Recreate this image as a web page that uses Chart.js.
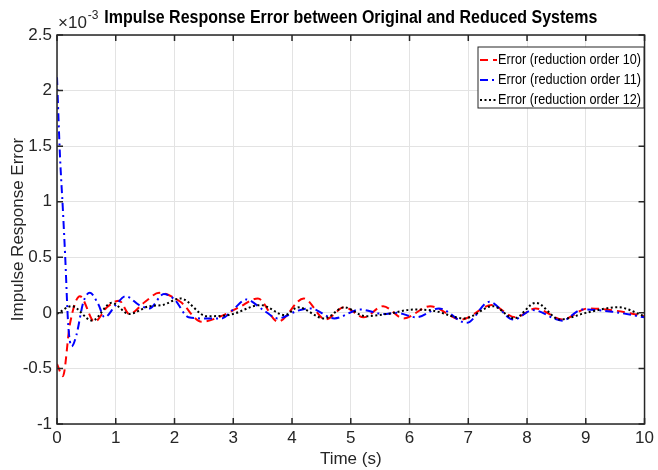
<!DOCTYPE html>
<html lang="en">
<head>
<meta charset="UTF-8">
<title>Impulse Response Error</title>
<script src="https://cdn.jsdelivr.net/npm/chart.js"></script>
<style>
  * { margin: 0; padding: 0; box-sizing: border-box; }
  body { background: #fff; width: 658px; height: 470px; overflow: hidden; }
</style>
</head>
<body>
<canvas id="errChart" width="658" height="470"></canvas>
<script>
// values are in units of 1e-3 (axis shows the x10^-3 multiplier)
const seriesLabels = ['Error (reduction order 10)', 'Error (reduction order 11)', 'Error (reduction order 12)'];

const time10 = [0, 0.1, 0.22, 0.39, 0.64, 0.85, 1.06, 1.23, 1.5, 1.74, 2.1, 2.46, 2.75, 3.1, 3.42, 3.76, 4.2, 4.57, 4.89, 5.22, 5.55, 5.9, 6.35, 6.88, 7.4, 7.8, 8.15, 8.6, 9.04, 9.5, 10];
const err10  = [-0.46, -0.57, -0.1, 0.15, -0.08, 0.05, 0.11, -0.01, 0.1, 0.18, 0.1, -0.08, -0.04, 0.05, 0.13, -0.08, 0.13, -0.06, 0.05, -0.04, 0.06, -0.05, 0.06, -0.06, 0.07, -0.04, 0.04, -0.06, 0.04, 0.02, -0.03];

const time11 = [0, 0.05, 0.1, 0.14, 0.19, 0.25, 0.33, 0.45, 0.56, 0.7, 0.81, 1.0, 1.17, 1.4, 1.57, 1.82, 2.0, 2.24, 2.5, 2.8, 3.0, 3.22, 3.5, 3.76, 4.1, 4.31, 4.72, 5.16, 5.56, 5.78, 6.12, 6.5, 6.97, 7.36, 7.77, 8.1, 8.6, 8.94, 9.45, 10];
const err11  = [2.12, 1.42, 0.93, 0.5, -0.1, -0.3, -0.2, 0.1, 0.18, 0.08, -0.04, 0.07, 0.15, 0.07, 0.04, 0.17, 0.12, -0.04, -0.05, -0.05, 0.03, 0.12, 0.03, -0.05, 0.02, 0.04, -0.05, 0.03, -0.01, 0.0, -0.04, 0.04, -0.09, 0.1, -0.06, 0.025, -0.07, 0.03, 0.01, -0.04];

const time12 = [0, 0.25, 0.6, 0.93, 1.23, 1.57, 1.79, 2.1, 2.55, 2.92, 3.47, 3.88, 4.1, 4.55, 4.89, 5.25, 5.62, 6.07, 6.4, 6.93, 7.42, 7.78, 8.15, 8.56, 9.0, 9.55, 10];
const err12  = [-0.01, 0.06, -0.07, 0.09, -0.01, 0.06, 0.07, 0.13, -0.03, -0.02, 0.07, -0.02, 0.05, -0.05, 0.05, -0.03, -0.01, 0.03, 0.02, -0.05, 0.06, -0.05, 0.09, -0.06, 0.0, 0.05, -0.03];

const xTickValues = [0, 1, 2, 3, 4, 5, 6, 7, 8, 9, 10];
const yTickValues = [-1, -0.5, 0, 0.5, 1, 1.5, 2, 2.5];

const FONT = '"Liberation Sans Narrow", "Liberation Sans", Arial, sans-serif';
const AXIS_COLOR = '#262626';

function toPoints(ts, vs) {
    return ts.map((t, i) => ({ x: t, y: vs[i] }));
}

// draw text squeezed horizontally to a given width (MATLAB export looks condensed)
function squeezedText(ctx, text, x, y, targetWidth, align) {
    const w = ctx.measureText(text).width;
    const k = Math.min(1, targetWidth / w);
    ctx.save();
    ctx.translate(x, y);
    ctx.scale(k, 1);
    ctx.textAlign = align;
    ctx.fillText(text, 0, 0);
    ctx.restore();
}

// box, inward ticks, exponent, title and legend
const matlabDecor = {
    id: 'matlabDecor',
    afterDraw(chart) {
        const ctx = chart.ctx;
        const a = chart.chartArea;
        const xs = chart.scales.x, ys = chart.scales.y;
        ctx.save();
        ctx.strokeStyle = AXIS_COLOR;
        ctx.lineWidth = 1.5;
        ctx.strokeRect(a.left, a.top, a.right - a.left, a.bottom - a.top);

        const tl = 6;
        ctx.beginPath();
        xTickValues.forEach(v => {
            const px = xs.getPixelForValue(v);
            ctx.moveTo(px, a.bottom); ctx.lineTo(px, a.bottom - tl);
            ctx.moveTo(px, a.top); ctx.lineTo(px, a.top + tl);
        });
        yTickValues.forEach(v => {
            const py = ys.getPixelForValue(v);
            ctx.moveTo(a.left, py); ctx.lineTo(a.left + tl, py);
            ctx.moveTo(a.right, py); ctx.lineTo(a.right - tl, py);
        });
        ctx.stroke();

        // exponent
        ctx.fillStyle = AXIS_COLOR;
        ctx.textBaseline = 'alphabetic';
        ctx.textAlign = 'left';
        ctx.font = '17px ' + FONT;
        ctx.fillText('\u00d710', a.left + 1, 28);
        const w = ctx.measureText('\u00d710').width;
        ctx.font = '12px ' + FONT;
        ctx.fillText('-3', a.left + 2 + w, 19);

        // title
        ctx.fillStyle = '#000';
        ctx.font = 'bold 18px ' + FONT;
        ctx.textBaseline = 'middle';
        squeezedText(ctx, 'Impulse Response Error between Original and Reduced Systems', (a.left + a.right) / 2, 18, 493, 'center');

        // legend
        const lx = 478, ly = 47, lw = 166, lh = 61;
        ctx.fillStyle = '#fff';
        ctx.fillRect(lx, ly, lw, lh);
        ctx.strokeStyle = AXIS_COLOR;
        ctx.lineWidth = 1;
        ctx.strokeRect(lx, ly, lw, lh);
        ctx.font = '15px ' + FONT;
        chart.data.datasets.forEach((ds, i) => {
            const y = ly + 13 + i * 20;
            ctx.strokeStyle = ds.borderColor;
            ctx.lineWidth = ds.borderWidth;
            ctx.setLineDash(ds.borderDash);
            ctx.beginPath();
            ctx.moveTo(lx + 2, y);
            ctx.lineTo(lx + 19, y);
            ctx.stroke();
            ctx.setLineDash([]);
            ctx.fillStyle = '#000';
            squeezedText(ctx, ds.label, lx + 20, y, 143, 'left');
        });
        ctx.restore();
    }
};

new Chart(document.getElementById('errChart'), {
    type: 'line',
    data: {
        datasets: [
            {
                label: seriesLabels[0],
                data: toPoints(time10, err10),
                borderColor: '#ff0000',
                borderWidth: 2,
                borderDash: [8, 5],
                order: 3
            },
            {
                label: seriesLabels[1],
                data: toPoints(time11, err11),
                borderColor: '#0000ff',
                borderWidth: 2,
                borderDash: [8, 4, 2, 4],
                order: 2
            },
            {
                label: seriesLabels[2],
                data: toPoints(time12, err12),
                borderColor: '#000000',
                borderWidth: 2,
                borderDash: [2, 2.5],
                order: 1
            }
        ]
    },
    options: {
        responsive: false,
        animation: false,
        layout: { padding: { top: 35, right: 8, left: 0, bottom: 0 } },
        elements: {
            point: { radius: 0 },
            line: { cubicInterpolationMode: 'monotone', fill: false }
        },
        scales: {
            x: {
                type: 'linear',
                min: 0,
                max: 10,
                afterFit: s => { s.height = 46; },
                afterBuildTicks: s => { s.ticks = xTickValues.map(v => ({ value: v })); },
                grid: { color: '#e3e3e3', lineWidth: 1, drawTicks: false },
                border: { display: false },
                ticks: { color: AXIS_COLOR, padding: 4, font: { family: FONT, size: 17 }, maxRotation: 0, callback: v => String(v) },
                title: { display: true, text: 'Time (s)', color: AXIS_COLOR, padding: { top: 0, bottom: 0 }, font: { family: FONT, size: 17 } }
            },
            y: {
                min: -1,
                max: 2.5,
                afterFit: s => { s.width = 57; },
                afterBuildTicks: s => { s.ticks = yTickValues.map(v => ({ value: v })); },
                grid: { color: '#e3e3e3', lineWidth: 1, drawTicks: false },
                border: { display: false },
                ticks: { color: AXIS_COLOR, padding: 5, font: { family: FONT, size: 17 }, callback: v => String(v) },
                title: { display: true, text: 'Impulse Response Error', color: AXIS_COLOR, padding: { top: 8, bottom: 0 }, font: { family: FONT, size: 17 } }
            }
        },
        plugins: {
            legend: { display: false },
            tooltip: { enabled: false }
        }
    },
    plugins: [matlabDecor]
});
</script>
</body>
</html>
